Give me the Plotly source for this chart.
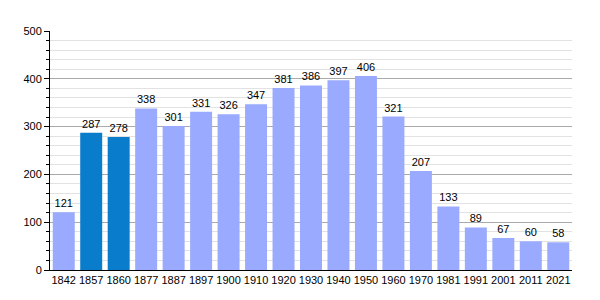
import plotly.graph_objects as go

years = ["1842", "1857", "1860", "1877", "1887", "1897", "1900", "1910", "1920", "1930",
         "1940", "1950", "1960", "1970", "1981", "1991", "2001", "2011", "2021"]
population = [121, 287, 278, 338, 301, 331, 326, 347, 381, 386, 397, 406, 321, 207, 133, 89, 67, 60, 58]
highlighted = {"1857", "1860"}
colors = ["#0a7ccc" if y in highlighted else "#99aaff" for y in years]

fig = go.Figure(go.Bar(
    x=years, y=population, marker_color=colors, marker_line_width=0,
    text=[str(v) for v in population], textposition="outside",
    textfont=dict(family="Liberation Sans, Arial", size=11, color="#000"),
    cliponaxis=False,
))
fig.update_layout(
    width=600, height=300, margin=dict(l=50, r=28, t=31, b=30),
    plot_bgcolor="white", paper_bgcolor="white", bargap=0.2,
    font=dict(family="Liberation Sans, Arial", size=11, color="#000"),
    showlegend=False,
)
fig.update_xaxes(type="category", showline=True, linecolor="#000", linewidth=1,
                 ticks="", showgrid=False, tickfont=dict(size=11))
fig.update_yaxes(range=[0, 500], dtick=100, showline=True, linecolor="#000", linewidth=1,
                 ticks="outside", ticklen=5, tickcolor="#000",
                 showgrid=True, gridcolor="#aaaaaa", gridwidth=1, zeroline=False,
                 minor=dict(dtick=20, showgrid=True, gridcolor="#e2e2e2", ticks="outside",
                            ticklen=3, tickcolor="#000"),
                 tickfont=dict(size=11))
fig.write_html("out.html")
